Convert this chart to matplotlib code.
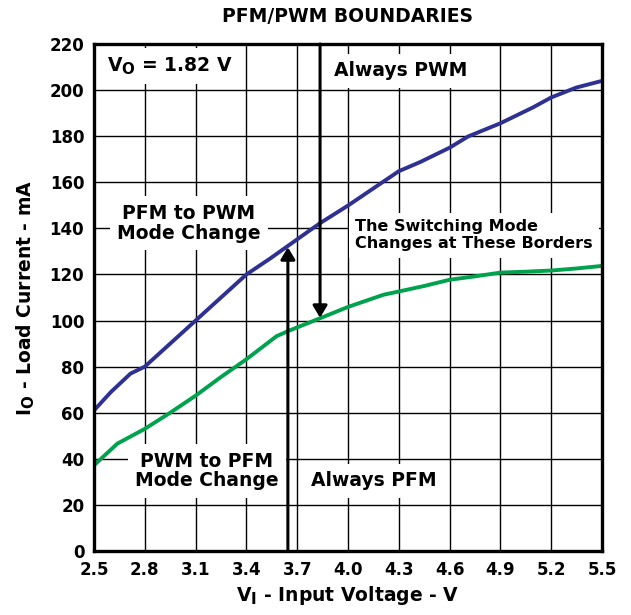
import matplotlib
matplotlib.use("Agg")
import matplotlib.pyplot as plt
import matplotlib._mathtext as _mt

plt.rcParams['font.family'] = ['DejaVu Sans']
plt.rcParams['mathtext.fontset'] = 'dejavusans'
# slightly larger subscripts for the V_O / V_I / I_O symbols
if hasattr(_mt, 'SHRINK_FACTOR'):
    _mt.SHRINK_FACTOR = 0.8

# PFM -> PWM boundary (upper curve)
vin_pwm = [2.5, 2.6, 2.716, 2.8, 2.95, 3.1, 3.25, 3.4, 3.538, 3.655, 3.772, 3.836,
           4.0, 4.151, 4.3, 4.427, 4.6, 4.71, 4.9, 5.093, 5.2, 5.348, 5.5]
io_pwm = [61.0, 69.0, 77.0, 80.0, 90.0, 100.0, 110.0, 120.0, 126.8, 132.9, 139.0, 142.3,
          149.9, 157.4, 164.8, 168.8, 175.0, 179.9, 185.6, 192.5, 196.8, 201.1, 204.0]

# PWM -> PFM boundary (lower curve)
vin_pfm = [2.5, 2.638, 2.8, 2.95, 3.1, 3.25, 3.4, 3.578, 3.655, 3.832, 4.0, 4.21,
           4.3, 4.45, 4.6, 4.743, 4.9, 5.05, 5.2, 5.35, 5.5]
io_pfm = [37.2, 46.6, 53.0, 60.0, 67.4, 75.5, 83.2, 93.2, 95.7, 100.9, 105.9, 111.2,
          112.6, 115.0, 117.7, 119.1, 120.8, 121.2, 121.7, 122.6, 123.7]

x_ticks = [2.5, 2.8, 3.1, 3.4, 3.7, 4.0, 4.3, 4.6, 4.9, 5.2, 5.5]
x_tick_labels = ["2.5", "2.8", "3.1", "3.4", "3.7", "4.0", "4.3", "4.6", "4.9", "5.2", "5.5"]
y_ticks = [0, 20, 40, 60, 80, 100, 120, 140, 160, 180, 200, 220]

# transition arrows: (input voltage, start current, end current)
arrow_up = (3.645, 0.0, 131.8)
arrow_down = (3.835, 220.0, 101.2)

W, H = 631, 615
fig = plt.figure(figsize=(W / 100, H / 100), dpi=100)
left, right, top, bottom = 94, 602, 44, 551
ax = fig.add_axes([left / W, 1 - bottom / H, (right - left) / W, (bottom - top) / H])

ax.set_xlim(2.5, 5.5)
ax.set_ylim(0, 220)
ax.set_xticks(x_ticks)
ax.set_xticklabels(x_tick_labels)
ax.set_yticks(y_ticks)
ax.tick_params(length=0, pad=7, labelsize=12)
for lab in ax.get_xticklabels() + ax.get_yticklabels():
    lab.set_fontweight('bold')
ax.grid(True, color='black', lw=1.0, zorder=1)
ax.set_axisbelow(True)
for sp in ax.spines.values():
    sp.set_linewidth(2.4)
    sp.set_zorder(6)

ax.plot(vin_pwm, io_pwm, color='#2E3192', lw=2.8, zorder=4, solid_capstyle='butt')
ax.plot(vin_pfm, io_pfm, color='#00A24E', lw=2.8, zorder=4, solid_capstyle='butt')

for (xv, y0, y1) in (arrow_up, arrow_down):
    ax.annotate('', xy=(xv, y1), xytext=(xv, y0),
                arrowprops=dict(arrowstyle='-|>,head_length=0.6,head_width=0.36',
                                mutation_scale=12, lw=2.2, color='black',
                                shrinkA=0, shrinkB=0),
                zorder=5)

box = dict(boxstyle='square,pad=0.4', facecolor='white', edgecolor='none')
tkw = dict(fontsize=13.5, fontweight='bold', bbox=box, zorder=3)

ax.text(2.95, 210.5, r'$\mathbf{V_O}$ = 1.82 V', ha='center', va='center', **tkw)
ax.text(4.313, 208.5, 'Always PWM', ha='center', va='center', **tkw)
ax.text(3.061, 142.2, 'PFM to PWM\nMode Change', ha='center', va='center',
        linespacing=1.05, **tkw)
ax.text(4.041, 137.0, 'The Switching Mode\nChanges at These Borders', ha='left',
        va='center', linespacing=1.2, **dict(tkw, fontsize=11.5))
ax.text(3.167, 34.7, 'PWM to PFM\nMode Change', ha='center', va='center',
        linespacing=1.05, **tkw)
ax.text(4.154, 30.4, 'Always PFM', ha='center', va='center', **tkw)

fig.text((left + right) / 2 / W, 1 - 17 / H, 'PFM/PWM BOUNDARIES', ha='center',
         va='center', fontsize=13.5, fontweight='bold')
ax.set_xlabel(r'$\mathbf{V_I}$ - Input Voltage - V', fontsize=13.5, fontweight='bold',
              labelpad=4)
ax.set_ylabel(r'$\mathbf{I_O}$ - Load Current - mA', fontsize=13.5, fontweight='bold',
              labelpad=9)

fig.savefig('out.png', dpi=100, facecolor='white')
